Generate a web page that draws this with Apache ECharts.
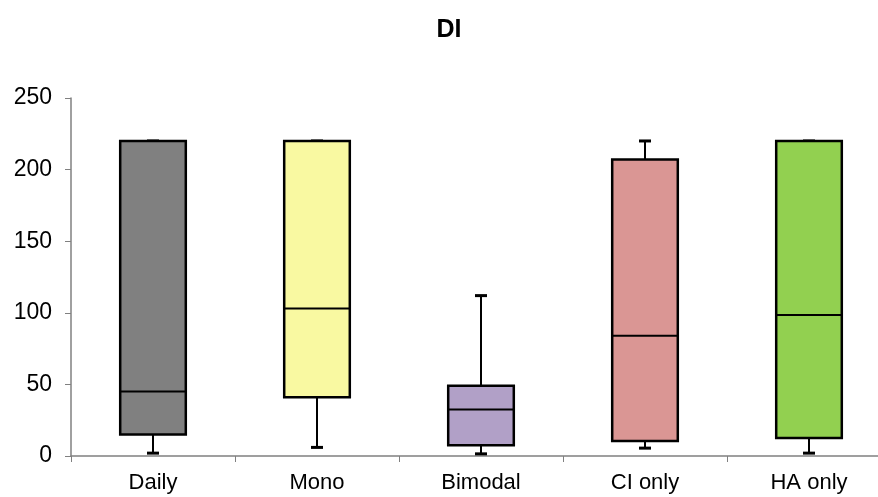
<!DOCTYPE html>
<html>
<head>
<meta charset="utf-8">
<script src="https://cdn.jsdelivr.net/npm/echarts@6/dist/echarts.min.js"></script>
<style>
  html, body { margin: 0; padding: 0; background: #fff; overflow: hidden; }
  /* plot area runs past the right edge in the original, so the chart is a bit wider than the window */
  #main { width: 891px; height: 497px; }
</style>
</head>
<body>
<div id="main"></div>
<script>
var categories = ['Daily', 'Mono', 'Bimodal', 'CI only', 'HA only'];
var lows = [2, 6, 1.5, 5.5, 2];
var q1s = [15, 41, 7.5, 10.5, 12.5];
var medians = [45, 103, 32.5, 84, 98.5];
var q3s = [220, 220, 49, 207, 220];
var highs = [220, 220, 112, 220, 220];
var colors = ['#808080', '#F9F9A1', '#B1A0C7', '#DA9694', '#92D050'];
var yTicks = [0, 50, 100, 150, 200, 250];

var boxData = categories.map(function (c, i) {
  return [i, lows[i], q1s[i], medians[i], q3s[i], highs[i]];
});

var chart = echarts.init(document.getElementById('main'));

function renderBox(params, api) {
  var i = api.value(0);
  var bandW = api.size([1, 0])[0];
  var boxW = bandW * 0.4;
  var capW = 12;
  var pLow = api.coord([i, api.value(1)]);
  var pQ1 = api.coord([i, api.value(2)]);
  var pMed = api.coord([i, api.value(3)]);
  var pQ3 = api.coord([i, api.value(4)]);
  var pHigh = api.coord([i, api.value(5)]);
  var cx = pMed[0];
  var lineStyle = { stroke: '#000', lineWidth: 2, fill: null };
  var capStyle = { stroke: '#000', lineWidth: 3, fill: null };
  return {
    type: 'group',
    children: [
      { type: 'line', shape: { x1: cx, y1: pLow[1], x2: cx, y2: pQ1[1] }, style: lineStyle },
      { type: 'line', shape: { x1: cx, y1: pQ3[1], x2: cx, y2: pHigh[1] }, style: lineStyle },
      { type: 'line', shape: { x1: cx - capW / 2, y1: pLow[1], x2: cx + capW / 2, y2: pLow[1] }, style: capStyle },
      { type: 'line', shape: { x1: cx - capW / 2, y1: pHigh[1], x2: cx + capW / 2, y2: pHigh[1] }, style: capStyle },
      {
        type: 'rect',
        shape: { x: cx - boxW / 2, y: pQ3[1], width: boxW, height: pQ1[1] - pQ3[1] },
        style: { fill: colors[params.dataIndex], stroke: '#000', lineWidth: 2.5 }
      },
      { type: 'line', shape: { x1: cx - boxW / 2, y1: pMed[1], x2: cx + boxW / 2, y2: pMed[1] }, style: lineStyle }
    ]
  };
}

chart.setOption({
  animation: false,
  title: {
    text: 'DI',
    left: 444,
    top: 13,
    textAlign: 'center',
    textStyle: { fontFamily: 'Liberation Sans', fontSize: 25, fontWeight: 'bold', color: '#000' }
  },
  grid: { left: 71, right: 0, top: 98, bottom: 41 },
  xAxis: {
    type: 'category',
    data: categories,
    boundaryGap: true,
    axisLine: { lineStyle: { color: '#808080', width: 1.5 } },
    axisTick: { show: true, length: 6, lineStyle: { color: '#808080' } },
    axisLabel: { color: '#000', fontFamily: 'Liberation Sans', fontSize: 22, margin: 16 }
  },
  yAxis: {
    type: 'value',
    min: yTicks[0],
    max: yTicks[yTicks.length - 1],
    interval: 50,
    splitLine: { show: false },
    axisLine: { show: true, lineStyle: { color: '#808080', width: 1.5 } },
    axisTick: { show: true, length: 6, lineStyle: { color: '#808080' } },
    axisLabel: { color: '#000', fontFamily: 'Liberation Sans', fontSize: 23, margin: 19 }
  },
  series: [{
    type: 'custom',
    renderItem: renderBox,
    encode: { x: 0, y: [1, 2, 3, 4, 5] },
    data: boxData
  }]
});
</script>
</body>
</html>
